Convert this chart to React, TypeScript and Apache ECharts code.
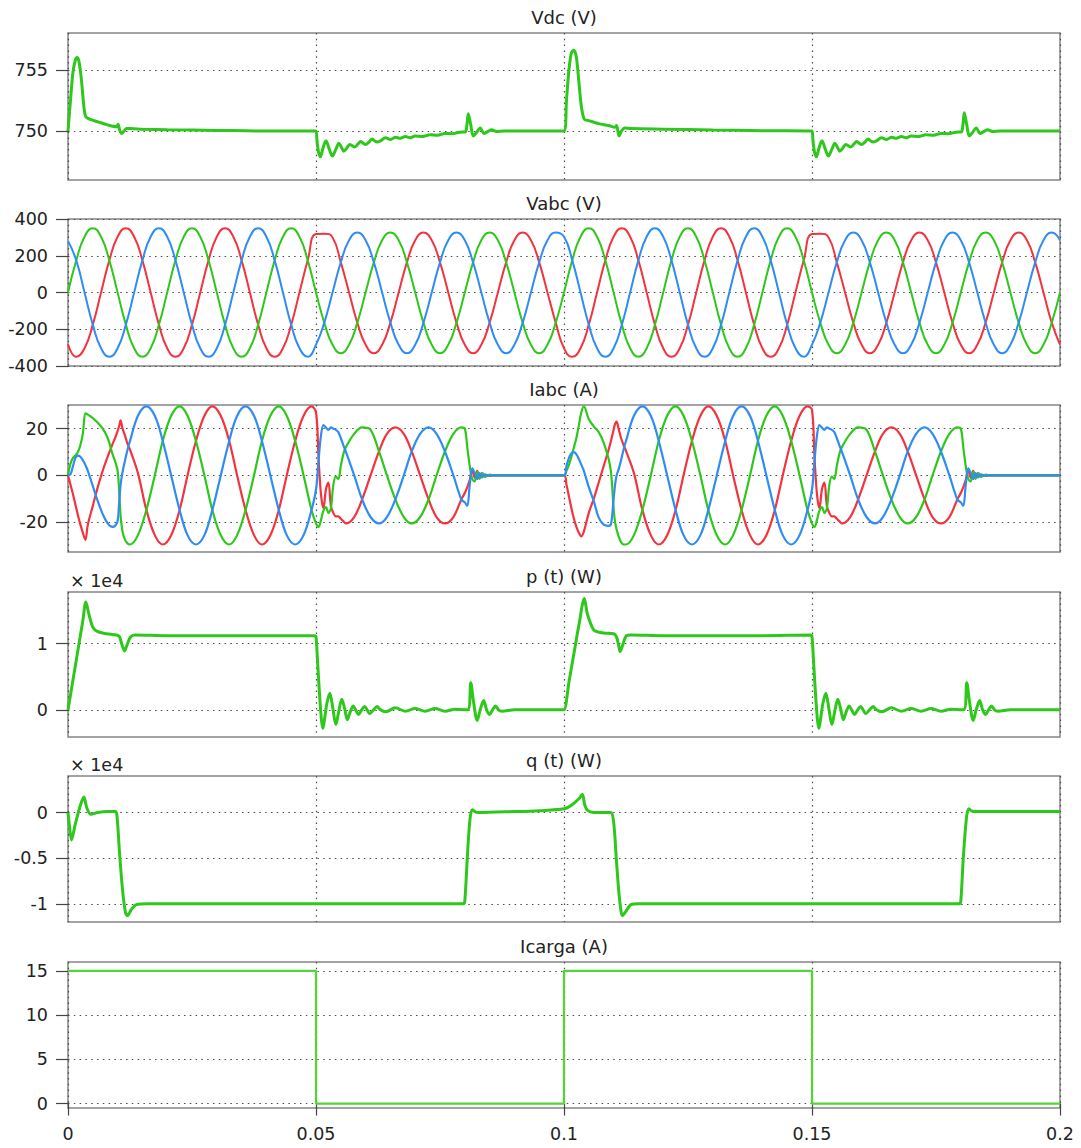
import React, { useEffect, useRef } from 'react';
import * as echarts from 'echarts';

// ---------------- DATA ----------------
const X_TICKS = [0, 0.05, 0.1, 0.15, 0.2];
const VDC_TICKS = [750, 755];
const VABC_TICKS = [-400, -200, 0, 200, 400];
const IABC_TICKS = [-20, 0, 20];
const P_TICKS = [0, 1];
const Q_TICKS = [-1, -0.5, 0];
const ICARGA_TICKS = [0, 5, 10, 15];

// Vdc (V): [t, v]
const VDC: number[][] = [
  [0, 750], [0.0005, 752.5], [0.001, 754.8], [0.0015, 755.8], [0.0018, 756.0], [0.0022, 755.7],
  [0.0027, 754.2], [0.0032, 752.0], [0.0036, 751.15], [0.0045, 750.95], [0.006, 750.75], [0.008, 750.5],
  [0.0098, 750.35], [0.0101, 750.55], [0.0104, 750.1], [0.0108, 749.8], [0.0113, 750.0], [0.0118, 750.2],
  [0.0125, 750.2], [0.015, 750.15], [0.02, 750.1], [0.03, 750.05], [0.04, 750.0], [0.0495, 750.0],
  [0.05, 750.0], [0.0502, 749.2], [0.0505, 748.3], [0.0509, 747.9], [0.0514, 748.6], [0.052, 749.2],
  [0.0527, 748.5], [0.0533, 747.95], [0.054, 748.5], [0.0546, 749.0], [0.0551, 748.7], [0.0556, 748.35],
  [0.0562, 748.6], [0.0568, 748.9], [0.0573, 748.8], [0.0578, 748.7], [0.0584, 748.9], [0.059, 749.15],
  [0.0595, 749.0], [0.06, 748.9], [0.0607, 749.1], [0.0613, 749.35], [0.0618, 749.2], [0.0623, 749.1],
  [0.063, 749.2], [0.064, 749.45], [0.065, 749.3], [0.066, 749.5], [0.067, 749.4], [0.068, 749.55],
  [0.069, 749.45], [0.07, 749.6], [0.0715, 749.55], [0.073, 749.7], [0.0745, 749.65], [0.076, 749.8],
  [0.0775, 749.78], [0.079, 749.9], [0.0801, 749.92], [0.0804, 750.4], [0.0807, 751.4], [0.0812, 750.5],
  [0.0817, 749.6], [0.0824, 749.9], [0.0831, 750.25], [0.0839, 749.8], [0.0846, 749.95], [0.0854, 750.1],
  [0.0864, 749.95], [0.0879, 750.0], [0.095, 750.0],
  [0.1, 750.0], [0.1005, 752.5], [0.101, 755.0], [0.1015, 756.4], [0.102, 756.6], [0.1025, 756.0],
  [0.103, 754.0], [0.1035, 752.0], [0.1041, 750.95], [0.105, 750.85], [0.107, 750.6], [0.109, 750.45],
  [0.1103, 750.3], [0.1106, 750.45], [0.1111, 749.6], [0.1116, 750.0], [0.1122, 750.25], [0.1135, 750.2],
  [0.12, 750.15], [0.13, 750.08], [0.14, 750.03], [0.1495, 750.0],
  [0.15, 750.0], [0.1502, 749.2], [0.1505, 748.3], [0.1509, 747.9], [0.1514, 748.6], [0.152, 749.2],
  [0.1527, 748.5], [0.1533, 747.95], [0.154, 748.5], [0.1546, 749.0], [0.1551, 748.7], [0.1556, 748.35],
  [0.1562, 748.6], [0.1568, 748.9], [0.1573, 748.8], [0.1578, 748.7], [0.1584, 748.9], [0.159, 749.15],
  [0.1595, 749.0], [0.16, 748.9], [0.1607, 749.1], [0.1613, 749.35], [0.1618, 749.2], [0.1623, 749.1],
  [0.163, 749.2], [0.164, 749.45], [0.165, 749.3], [0.166, 749.5], [0.167, 749.4], [0.168, 749.55],
  [0.169, 749.45], [0.17, 749.6], [0.1715, 749.55], [0.173, 749.7], [0.1745, 749.65], [0.176, 749.8],
  [0.1775, 749.78], [0.179, 749.9], [0.1801, 749.92], [0.1804, 750.4], [0.1807, 751.5], [0.1812, 750.5],
  [0.1817, 749.6], [0.1824, 749.9], [0.1831, 750.25], [0.1839, 749.8], [0.1846, 749.95], [0.1854, 750.1],
  [0.1864, 749.95], [0.1879, 750.0], [0.2, 750.0],
];

// Vabc (V), sampled every 1/600 s from t = 0 to 0.2
const VABC_DT = 1 / 600;
const VA: number[] = [
  -282, -350, -303, -175, 0, 175, 303, 350, 303, 175, 0, -175,
  -303, -350, -303, -175, 0, 175, 303, 350, 303, 175, 0, -175,
  -303, -350, -303, -175, 0, 175, 318, 320, 300, 164, 0, -164,
  -284, -330, -284, -164, 0, 164, 284, 326, 284, 164, 0, -164,
  -284, -330, -284, -164, 0, 164, 284, 326, 284, 164, 0, -164,
  -303, -350, -303, -175, 0, 175, 303, 350, 303, 175, 0, -175,
  -303, -350, -303, -175, 0, 175, 303, 350, 303, 175, 0, -175,
  -303, -350, -303, -175, 0, 175, 318, 320, 300, 164, 0, -164,
  -284, -330, -284, -164, 0, 164, 284, 326, 284, 164, 0, -164,
  -284, -330, -284, -164, 0, 164, 284, 326, 284, 164, 0, -164,
  -284,
];
const VB: number[] = [
  0, 175, 303, 350, 303, 175, 0, -175, -303, -350, -303, -175,
  0, 175, 303, 350, 303, 175, 0, -175, -303, -350, -303, -175,
  0, 175, 303, 350, 303, 175, 0, -164, -284, -330, -284, -164,
  0, 164, 284, 326, 284, 164, 0, -164, -284, -330, -284, -164,
  0, 164, 284, 326, 284, 164, 0, -164, -284, -330, -284, -164,
  0, 175, 303, 350, 303, 175, 0, -175, -303, -350, -303, -175,
  0, 175, 303, 350, 303, 175, 0, -175, -303, -350, -303, -175,
  0, 175, 303, 350, 303, 175, 0, -164, -284, -330, -284, -164,
  0, 164, 284, 326, 284, 164, 0, -164, -284, -330, -284, -164,
  0, 164, 284, 326, 284, 164, 0, -164, -284, -330, -284, -164,
  0,
];
const VC: number[] = [
  281, 175, 0, -175, -303, -350, -303, -175, 0, 175, 303, 350,
  303, 175, 0, -175, -303, -350, -303, -175, 0, 175, 303, 350,
  303, 175, 0, -175, -303, -350, -284, -164, 0, 164, 284, 326,
  284, 164, 0, -164, -284, -330, -284, -164, 0, 164, 284, 326,
  284, 164, 0, -164, -284, -330, -284, -164, 0, 164, 284, 326,
  303, 175, 0, -175, -303, -350, -303, -175, 0, 175, 303, 350,
  303, 175, 0, -175, -303, -350, -303, -175, 0, 175, 303, 350,
  303, 175, 0, -175, -303, -350, -284, -164, 0, 164, 284, 326,
  284, 164, 0, -164, -284, -330, -284, -164, 0, 164, 284, 326,
  284, 164, 0, -164, -284, -330, -284, -164, 0, 164, 284, 326,
  284,
];

// Iabc (A): rows [t, ia (red), ib (green), ic (blue)]
const IABC: number[][] = [
  [0, 0, 0, 0], [0.0005, -4, 5, 0.5], [0.001, -8, 7.5, 4], [0.0015, -12.5, 8.5, 7.5],
  [0.002, -17, 10, 8.5], [0.0025, -21, 13, 8], [0.003, -24.5, 18, 6.5], [0.0035, -27.5, 26.5, 4.5],
  [0.004, -21, 26, 2], [0.005, -13, 24.5, -4.5], [0.006, -5, 22.5, -11], [0.007, 2, 20, -16.5],
  [0.008, 8, 16, -20.5], [0.009, 13.5, 9, -22], [0.0095, 16, 6, -21.5], [0.01, 19, 2, -19.5],
  [0.0103, 21, -6, -12], [0.0106, 23.5, -17, -4], [0.011, 20, -24, 1.5], [0.0115, 17, -27.5, 6.5],
  [0.012, 13.5, -29, 11], [0.0125, 11, -29.5, 14.75],
  [0.0141, 1, -25.5, 25.5], [0.0158, -14.75, -14.75, 29.5], [0.0175, -25.5, 0, 25.5],
  [0.0191, -29.5, 14.75, 14.75], [0.0208, -25.5, 25.5, 0], [0.0225, -14.75, 29.5, -14.75],
  [0.0241, 0, 25.5, -25.5], [0.0258, 14.75, 14.75, -29.5], [0.0275, 25.5, 0, -25.5],
  [0.0291, 29.5, -14.75, -14.75], [0.0308, 25.5, -25.5, 0], [0.0325, 14.75, -29.5, 14.75],
  [0.0341, 0, -25.5, 25.5], [0.0358, -14.75, -14.75, 29.5], [0.0375, -25.5, 0, 25.5],
  [0.0391, -29.5, 14.75, 14.75], [0.0408, -25.5, 25.5, 0], [0.0425, -14.75, 29.5, -14.75],
  [0.0441, 0, 25.5, -25.5], [0.0458, 14.75, 14.75, -29.5], [0.0475, 25.5, 0, -25.5],
  [0.0491, 29.5, -14.75, -14.75],
  [0.05, 27, -20.5, -6], [0.0505, 8, -22, 6], [0.051, -8, -19, 17], [0.0515, -14, -15, 21.5],
  [0.052, -6, -13.5, 20.5], [0.0525, -3, -16, 19.5], [0.053, -13, -14, 20.5], [0.0535, -16, -4, 20],
  [0.054, -17.5, -0.5, 19.5], [0.0545, -17.5, -1.5, 18.5], [0.055, -18.5, 4, 16], [0.0555, -19.5, 9, 13],
  [0.056, -20.5, 12, 10.25], [0.0577, -17.75, 17.75, 0], [0.0593, -10.25, 20.5, -10.25],
  [0.061, 0, 19.5, -17.75], [0.0627, 10.25, 10.25, -20.5], [0.0643, 17.75, 0, -17.75],
  [0.066, 20.5, -10.25, -10.25], [0.0677, 17.75, -17.75, 0], [0.0693, 10.25, -20.5, 10.25],
  [0.071, 0, -17.75, 17.75], [0.0727, -10.25, -10.25, 20.5], [0.0743, -17.75, 0, 17.75],
  [0.076, -20.5, 10.25, 10.25], [0.0777, -17.75, 17.75, 0], [0.0793, -10.25, 20.5, -10.25],
  [0.08, -7.5, 20, -11.5], [0.0805, -5, 12, -13], [0.081, -2, 4, -4], [0.0815, 2.5, -1.5, 3],
  [0.082, -1, -2.5, 1], [0.0825, 2, 1.5, -1.5], [0.083, -1, -1.5, 1], [0.0835, 1, 1, -0.8],
  [0.084, -0.5, -0.6, 0.5], [0.085, 0.3, 0.3, -0.2], [0.086, 0, 0, 0], [0.09, 0, 0, 0], [0.095, 0, 0, 0],
  [0.1, 0, 0, 0], [0.1005, -4, 2, 4], [0.101, -9, 4.5, 7.5], [0.1015, -14, 8, 9.5],
  [0.102, -18.5, 12, 10], [0.1025, -22, 16, 9], [0.103, -24.5, 21.5, 7], [0.1035, -26, 27, 4.5],
  [0.104, -24, 29.5, 2], [0.105, -16, 24, -5], [0.106, -10, 21, -11], [0.107, -3, 18.5, -18],
  [0.108, 4, 14, -21], [0.109, 11, 7, -21.5], [0.1095, 15, 1, -20.5], [0.11, 19.5, -14, -10],
  [0.1103, 22, -20, -4], [0.1106, 23, -23, 0], [0.111, 20, -26, 2.5], [0.1115, 16, -28.5, 6.5],
  [0.112, 13, -29.5, 11], [0.1125, 10.5, -29.5, 14.75],
  [0.1141, 1, -25.5, 25.5], [0.1158, -14.75, -14.75, 29.5], [0.1175, -25.5, 0, 25.5],
  [0.1191, -29.5, 14.75, 14.75], [0.1208, -25.5, 25.5, 0], [0.1225, -14.75, 29.5, -14.75],
  [0.1241, 0, 25.5, -25.5], [0.1258, 14.75, 14.75, -29.5], [0.1275, 25.5, 0, -25.5],
  [0.1291, 29.5, -14.75, -14.75], [0.1308, 25.5, -25.5, 0], [0.1325, 14.75, -29.5, 14.75],
  [0.1341, 0, -25.5, 25.5], [0.1358, -14.75, -14.75, 29.5], [0.1375, -25.5, 0, 25.5],
  [0.1391, -29.5, 14.75, 14.75], [0.1408, -25.5, 25.5, 0], [0.1425, -14.75, 29.5, -14.75],
  [0.1441, 0, 25.5, -25.5], [0.1458, 14.75, 14.75, -29.5], [0.1475, 25.5, 0, -25.5],
  [0.1491, 29.5, -14.75, -14.75],
  [0.15, 28, -20.5, -6], [0.1505, 8, -22, 6], [0.151, -8, -19, 17], [0.1515, -14, -15, 21.5],
  [0.152, -6, -13.5, 20.5], [0.1525, -3, -16, 19.5], [0.153, -13, -14, 20.5], [0.1535, -16, -4, 20],
  [0.154, -17.5, -0.5, 19.5], [0.1545, -17.5, -1.5, 18.5], [0.155, -18.5, 4, 16], [0.1555, -19.5, 9, 13],
  [0.156, -20.5, 12, 10.25], [0.1577, -17.75, 17.75, 0], [0.1593, -10.25, 20.5, -10.25],
  [0.161, 0, 19.5, -17.75], [0.1627, 10.25, 10.25, -20.5], [0.1643, 17.75, 0, -17.75],
  [0.166, 20.5, -10.25, -10.25], [0.1677, 17.75, -17.75, 0], [0.1693, 10.25, -20.5, 10.25],
  [0.171, 0, -17.75, 17.75], [0.1727, -10.25, -10.25, 20.5], [0.1743, -17.75, 0, 17.75],
  [0.176, -20.5, 10.25, 10.25], [0.1777, -17.75, 17.75, 0], [0.1793, -10.25, 20.5, -10.25],
  [0.18, -7.5, 20, -11.5], [0.1805, -5, 12, -13], [0.181, -2, 4, -4], [0.1815, 2.5, -1.5, 3],
  [0.182, -1, -2.5, 1], [0.1825, 2, 1.5, -1.5], [0.183, -1, -1.5, 1], [0.1835, 1, 1, -0.8],
  [0.184, -0.5, -0.6, 0.5], [0.185, 0.3, 0.3, -0.2], [0.186, 0, 0, 0], [0.19, 0, 0, 0], [0.2, 0, 0, 0],
];

// p(t) in units of 1e4 W: [t, p]
const P_1E4: number[][] = [
  [0, 0], [0.001, 0.45], [0.002, 0.9], [0.003, 1.35], [0.0036, 1.63], [0.0042, 1.45], [0.005, 1.25],
  [0.006, 1.18], [0.0078, 1.15], [0.0098, 1.13], [0.0104, 1.1], [0.0109, 0.98], [0.0114, 0.89],
  [0.0119, 0.98], [0.0126, 1.1], [0.0135, 1.13], [0.02, 1.12], [0.03, 1.12], [0.04, 1.12], [0.0497, 1.12],
  [0.05, 1.1], [0.0503, 0.75], [0.0507, 0.25], [0.0511, -0.15], [0.0514, -0.28], [0.0518, -0.1],
  [0.0522, 0.1], [0.0528, 0.25], [0.0534, 0.02], [0.054, -0.22], [0.0546, -0.02], [0.0552, 0.16],
  [0.0558, 0.01], [0.0563, -0.15], [0.0569, -0.03], [0.0575, 0.06], [0.058, 0], [0.0586, -0.07],
  [0.0592, 0], [0.0598, 0.05], [0.0603, 0], [0.0608, -0.06], [0.0616, 0], [0.0623, 0.05], [0.063, 0],
  [0.064, -0.03], [0.066, 0.03], [0.068, -0.02], [0.07, 0.02], [0.072, -0.02], [0.074, 0.02],
  [0.076, -0.02], [0.078, 0.01], [0.0806, 0], [0.0812, 0.41], [0.0818, 0.1], [0.0825, -0.16],
  [0.0831, 0], [0.0838, 0.14], [0.0844, 0], [0.085, -0.07], [0.0856, 0], [0.0862, 0.06], [0.0868, 0],
  [0.0875, -0.02], [0.09, 0], [0.0995, 0],
  [0.1, 0], [0.101, 0.42], [0.102, 0.85], [0.103, 1.28], [0.1041, 1.68], [0.1047, 1.45], [0.1055, 1.28],
  [0.1061, 1.2], [0.108, 1.16], [0.11, 1.15], [0.1106, 1.1], [0.111, 0.98], [0.1113, 0.88],
  [0.1118, 0.97], [0.1126, 1.12], [0.1135, 1.13], [0.12, 1.12], [0.13, 1.12], [0.14, 1.12], [0.1497, 1.13],
  [0.15, 1.1], [0.1503, 0.75], [0.1507, 0.25], [0.1511, -0.15], [0.1514, -0.28], [0.1518, -0.1],
  [0.1522, 0.1], [0.1528, 0.25], [0.1534, 0.02], [0.154, -0.22], [0.1546, -0.02], [0.1552, 0.16],
  [0.1558, 0.01], [0.1563, -0.15], [0.1569, -0.03], [0.1575, 0.06], [0.158, 0], [0.1586, -0.07],
  [0.1592, 0], [0.1598, 0.05], [0.1603, 0], [0.1608, -0.06], [0.1616, 0], [0.1623, 0.05], [0.163, 0],
  [0.164, -0.03], [0.166, 0.03], [0.168, -0.02], [0.17, 0.02], [0.172, -0.02], [0.174, 0.02],
  [0.176, -0.02], [0.178, 0.01], [0.1806, 0], [0.1812, 0.41], [0.1818, 0.1], [0.1825, -0.16],
  [0.1831, 0], [0.1838, 0.14], [0.1844, 0], [0.185, -0.07], [0.1856, 0], [0.1862, 0.06], [0.1868, 0],
  [0.1875, -0.02], [0.19, 0], [0.2, 0],
];

// q(t) in units of 1e4 W: [t, q]
const Q_1E4: number[][] = [
  [0, 0], [0.0003, -0.15], [0.0007, -0.3], [0.0015, -0.12], [0.0025, 0.08], [0.0032, 0.17],
  [0.0038, 0.05], [0.0046, -0.02], [0.006, 0], [0.008, 0.01], [0.0096, 0.01], [0.0099, -0.05],
  [0.0104, -0.45], [0.011, -0.85], [0.0116, -1.1], [0.012, -1.13], [0.0128, -1.06], [0.0138, -1.01],
  [0.016, -1], [0.03, -1], [0.05, -1], [0.07, -1], [0.0797, -1], [0.08, -0.97], [0.0805, -0.5],
  [0.081, -0.1], [0.0815, 0.03], [0.0825, 0], [0.09, 0.01], [0.095, 0.02], [0.1, 0.04], [0.1015, 0.08],
  [0.103, 0.15], [0.1037, 0.2], [0.1042, 0.08], [0.1048, 0.02], [0.106, 0], [0.1094, 0], [0.11, -0.1],
  [0.1106, -0.55], [0.1112, -0.95], [0.1118, -1.13], [0.1125, -1.08], [0.1135, -1.01], [0.115, -1],
  [0.13, -1], [0.15, -1], [0.17, -1], [0.1797, -1], [0.18, -0.97], [0.1805, -0.5], [0.1811, -0.08],
  [0.1816, 0.04], [0.1825, 0.01], [0.19, 0.01], [0.2, 0.01],
];

// Icarga (A): [t, i]
const ICARGA: number[][] = [
  [0, 15], [0.05, 15], [0.05, 0], [0.1, 0], [0.1, 15], [0.15, 15], [0.15, 0], [0.2, 0],
];

// ---------------- STYLE / LAYOUT ----------------
const FONT = 'DejaVu Sans';
const GREEN = '#2ec71b';
const RED = '#f2343e';
const BLUE = '#2f8cf4';
const LIGHT_GREEN = '#52d636';
const TEXT = '#222';
const GRID_LEFT = 68;
const GRID_WIDTH = 992;
const TICK_FONT = 17.5;
const TITLE_FONT = 18;

const PANELS = [
  { title: 'Vdc (V)', top: 33, height: 147, min: 746, max: 758, ticks: VDC_TICKS, exp: false },
  { title: 'Vabc (V)', top: 219, height: 147, min: -400, max: 400, ticks: VABC_TICKS, exp: false },
  { title: 'Iabc (A)', top: 405, height: 147, min: -32.7, max: 30.1, ticks: IABC_TICKS, exp: false },
  { title: 'p (t) (W)', top: 592, height: 145, min: -0.41, max: 1.78, ticks: P_TICKS, exp: true },
  { title: 'q (t) (W)', top: 776, height: 146, min: -1.2, max: 0.4, ticks: Q_TICKS, exp: true },
  { title: 'Icarga (A)', top: 962, height: 146, min: -0.5, max: 16, ticks: ICARGA_TICKS, exp: false },
];

const dotted = { color: '#4a4a4a', width: 1.2, type: [1.5, 4.3] as number[] };

function buildOption() {
  const last = PANELS.length - 1;
  const grid = PANELS.map((p) => ({
    left: GRID_LEFT, width: GRID_WIDTH, top: p.top, height: p.height,
    show: true, borderColor: '#858585', borderWidth: 1.5, backgroundColor: 'transparent',
  }));
  const xAxis = PANELS.map((p, i) => ({
    type: 'value', gridIndex: i, min: 0, max: 0.2, interval: 0.05,
    axisLine: { show: false },
    axisTick: { show: i === last, length: 12, customValues: X_TICKS, lineStyle: { color: '#444', width: 1.2 } },
    axisLabel: { show: i === last, customValues: X_TICKS, margin: 17, fontFamily: FONT, fontSize: TICK_FONT, color: TEXT },
    splitLine: { show: true, lineStyle: dotted },
  }));
  const yAxis = PANELS.map((p, i) => ({
    type: 'value', gridIndex: i, min: p.min, max: p.max,
    axisLine: { show: false },
    axisTick: { show: true, length: 12, customValues: p.ticks, lineStyle: { color: '#444', width: 1.2 } },
    axisLabel: { customValues: p.ticks, margin: 20, fontFamily: FONT, fontSize: TICK_FONT, color: TEXT },
    splitLine: { show: true, lineStyle: dotted },
  }));

  const line = (name: string, idx: number, data: number[][], color: string, width: number, smooth: number | boolean) => ({
    name, type: 'line', xAxisIndex: idx, yAxisIndex: idx, data, showSymbol: false, symbol: 'none',
    smooth, lineStyle: { color, width }, itemStyle: { color }, z: 3,
  });

  const vabcT = (arr: number[]) => arr.map((v, k) => [k * VABC_DT, v]);
  const col = (j: number) => IABC.map((r) => [r[0], r[j]]);

  const series = [
    line('Vdc', 0, VDC, GREEN, 3, 0.3),
    line('Va', 1, vabcT(VA), RED, 2, 0.5),
    line('Vb', 1, vabcT(VB), GREEN, 2, 0.5),
    line('Vc', 1, vabcT(VC), BLUE, 2, 0.5),
    line('Ia', 2, col(1), RED, 2.2, 0.35),
    line('Ib', 2, col(2), GREEN, 2.2, 0.35),
    line('Ic', 2, col(3), BLUE, 2.2, 0.35),
    line('p', 3, P_1E4, GREEN, 3, 0.3),
    line('q', 4, Q_1E4, GREEN, 3, 0.3),
    line('Icarga', 5, ICARGA, LIGHT_GREEN, 2.2, false),
  ];

  const graphic: any[] = [];
  PANELS.forEach((p) => {
    graphic.push({
      type: 'text', x: GRID_LEFT + GRID_WIDTH / 2, y: p.top - 16,
      style: { text: p.title, font: `${TITLE_FONT}px "${FONT}"`, fill: TEXT, align: 'center', verticalAlign: 'middle', textAlign: 'center', textVerticalAlign: 'middle' },
    });
    if (p.exp) {
      graphic.push({
        type: 'text', x: GRID_LEFT + 2, y: p.top - 11,
        style: { text: '× 1e4', font: `${TICK_FONT}px "${FONT}"`, fill: TEXT, align: 'left', verticalAlign: 'middle', textAlign: 'left', textVerticalAlign: 'middle' },
      });
    }
  });

  return {
    animation: false,
    backgroundColor: '#ffffff',
    textStyle: { fontFamily: FONT },
    grid, xAxis, yAxis, series, graphic,
  };
}

export default function App() {
  const ref = useRef<HTMLDivElement>(null);
  useEffect(() => {
    if (!ref.current) return;
    const chart = echarts.init(ref.current, null, { renderer: 'svg' });
    chart.setOption(buildOption() as any);
    return () => chart.dispose();
  }, []);
  return (
    <div
      ref={ref}
      style={{ position: 'fixed', left: 0, top: 0, width: 1081, height: 1148, background: '#fff' }}
    />
  );
}
